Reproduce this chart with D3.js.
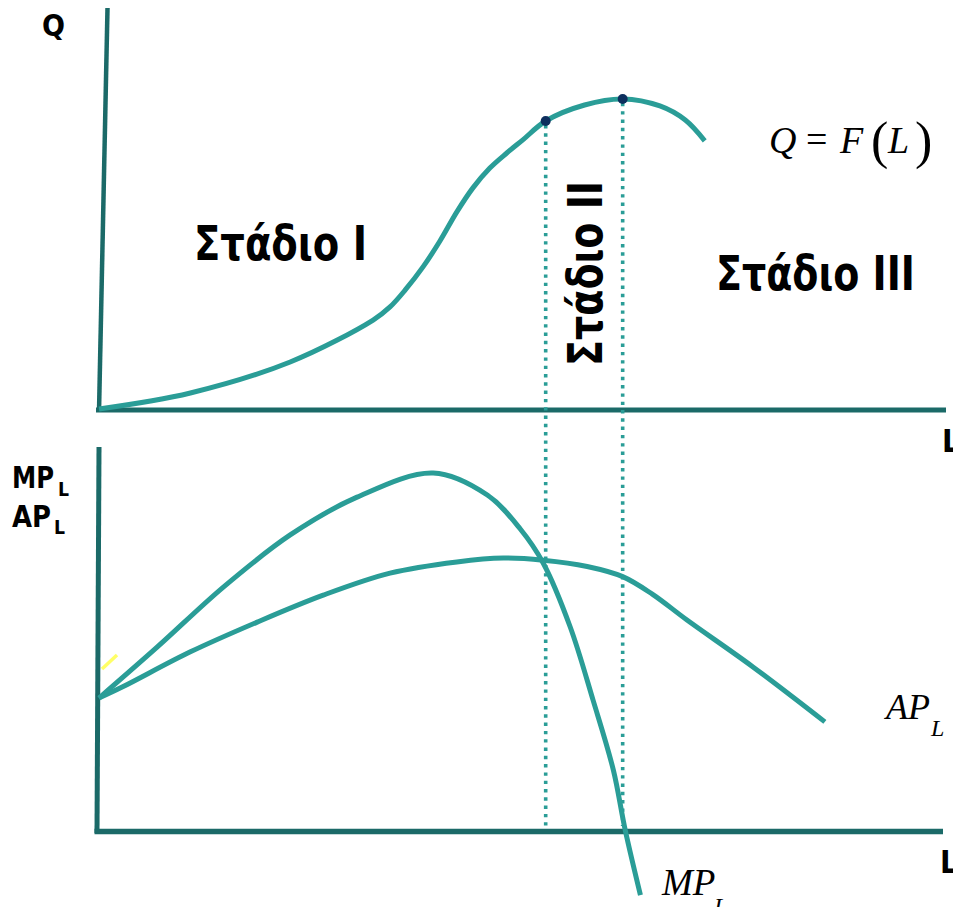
<!DOCTYPE html>
<html>
<head>
<meta charset="utf-8">
<script src="https://cdn.jsdelivr.net/npm/d3@7"></script>
<style>
  body { margin: 0; background: #fff; }
  svg { display: block; }
</style>
</head>
<body>
<div id="chart-container"></div>
<script>
// Total product curve Q = F(L)
const qL    = [0, 10.8, 22.6, 32.4, 34.4, 36.2, 38.3, 40.3, 42.3, 44.2, 46.2, 48.2, 50.1, 52.8, 57.4, 61.9, 66.3, 69.3, 71.6];
const qVals = [0, 5.0, 14.7, 27.8, 31.9, 37.2, 44.4, 52.5, 61.6, 69.1, 75.3, 80.0, 84.1, 90.0, 95.0, 96.9, 94.7, 90.3, 83.8];

// Marginal product MP_L
const mpL    = [0, 6.9, 14.7, 22.6, 30.5, 39.5, 45.9, 49.8, 52.5, 55.7, 58.4, 60.8, 62.2, 64.0];
const mpVals = [37.7, 52.3, 69.4, 84.3, 95.1, 102.0, 95.7, 86.0, 76.3, 58.0, 37.1, 17.1, 0, -18.6];

// Average product AP_L
const apL    = [0, 2.8, 10.8, 18.7, 26.5, 34.4, 42.3, 47.8, 52.5, 57.7, 61.9, 65.4, 69.5, 77.3, 85.8];
const apVals = [37.7, 40.9, 50.9, 59.4, 67.1, 73.4, 76.6, 77.7, 77.1, 75.3, 72.4, 67.4, 60.0, 46.6, 30.9];

// stage boundaries (points on Q curve)
const stageL = [52.8, 61.9];
const stageQ = [90.0, 96.9];

const stageLabels = ["Στάδιο I", "Στάδιο II", "Στάδιο III"];

const width = 953, height = 907;
const teal = "#2a9d97", axisCol = "#1b6a68", navy = "#0d2f5e";

const svg = d3.select("#chart-container").append("svg")
  .attr("width", width).attr("height", height);

const x = d3.scaleLinear().domain([0, 100]).range([99, 945]);
const yTop = d3.scaleLinear().domain([0, 100]).range([409, 89]);
const yBot = d3.scaleLinear().domain([0, 100]).range([830, 480]);

const line = (xs, ys, yScale) => d3.line()
  .x((d, i) => x(xs[i]))
  .y(d => yScale(d))
  .curve(d3.curveCatmullRom.alpha(0.5))(ys);

// ---- axes (plain lines, no ticks) ----
svg.append("line")
  .attr("x1", x(0) + 8.5).attr("y1", 8)
  .attr("x2", x(0)).attr("y2", yTop(0) + 3)
  .attr("stroke", axisCol).attr("stroke-width", 4.5);
svg.append("line")
  .attr("x1", x(0) - 3).attr("y1", yTop(0) + 1)
  .attr("x2", 946).attr("y2", yTop(0) + 1)
  .attr("stroke", axisCol).attr("stroke-width", 5);

svg.append("line")
  .attr("x1", x(0)).attr("y1", 447)
  .attr("x2", x(0) - 2).attr("y2", yBot(0) + 3)
  .attr("stroke", axisCol).attr("stroke-width", 5);
svg.append("line")
  .attr("x1", x(0) - 4.5).attr("y1", yBot(0) + 1.5)
  .attr("x2", 943).attr("y2", yBot(0) + 1.5)
  .attr("stroke", axisCol).attr("stroke-width", 5.5);

// yellow tick mark
svg.append("line")
  .attr("x1", 102).attr("y1", 669).attr("x2", 117).attr("y2", 655)
  .attr("stroke", "#ffff66").attr("stroke-width", 3.5);

// ---- dotted stage lines ----
stageL.forEach((l, i) => {
  svg.append("line")
    .attr("x1", x(l)).attr("y1", yTop(stageQ[i]) + 4)
    .attr("x2", x(l)).attr("y2", yBot(0) - 4)
    .attr("stroke", teal).attr("stroke-width", 3.6)
    .attr("stroke-dasharray", "3.4 4.9");
});

// ---- curves ----
svg.append("path").attr("d", line(qL, qVals, yTop))
  .attr("fill", "none").attr("stroke", teal).attr("stroke-width", 5);
svg.append("path").attr("d", line(apL, apVals, yBot))
  .attr("fill", "none").attr("stroke", teal).attr("stroke-width", 5);
svg.append("path").attr("d", line(mpL, mpVals, yBot))
  .attr("fill", "none").attr("stroke", teal).attr("stroke-width", 5);

// dots
svg.selectAll(".dot").data(stageL).enter().append("circle")
  .attr("class", "dot")
  .attr("cx", d => x(d)).attr("cy", (d, i) => yTop(stageQ[i]))
  .attr("r", 5).attr("fill", navy);

// ---- labels ----
const bold = (t, px, py, size, len) => svg.append("text")
  .attr("x", px).attr("y", py)
  .attr("font-family", "DejaVu Sans, Verdana, sans-serif")
  .attr("font-weight", "bold").attr("font-size", size)
  .attr("textLength", len).attr("lengthAdjust", "spacingAndGlyphs")
  .attr("fill", "#000").text(t);

bold("Q", 42, 36, 30, 23);
bold("L", 942, 452, 32, 18);
bold("L", 940, 873, 32, 18);
bold("MP", 12, 488, 31, 42);
bold("L", 58, 496, 19, 11);
bold("AP", 12, 527, 31, 39);
bold("L", 54, 534, 19, 11);

bold(stageLabels[0], 194, 260, 48, 173);
bold(stageLabels[2], 716, 290, 48, 199);
bold(stageLabels[1], 0, 0, 48, 185)
  .attr("transform", "translate(602,366) rotate(-90)");

const serif = (t, px, py, size, italic) => svg.append("text")
  .attr("x", px).attr("y", py)
  .attr("font-family", "Liberation Serif, Times New Roman, serif")
  .attr("font-style", italic ? "italic" : "normal")
  .attr("font-size", size).attr("fill", "#000").text(t);

serif("Q", 769, 153, 38, true);
serif("=", 806, 152, 38, false);
serif("F", 840, 153, 38, true);
serif("(", 871, 158, 52, false);
serif("L", 888, 153, 38, true);
serif(")", 915, 158, 52, false);

serif("AP", 886, 719, 36, true);
serif("L", 931, 736, 24, true);
serif("MP", 662, 895, 37, true);
serif("L", 714, 914, 24, true);
</script>
</body>
</html>
